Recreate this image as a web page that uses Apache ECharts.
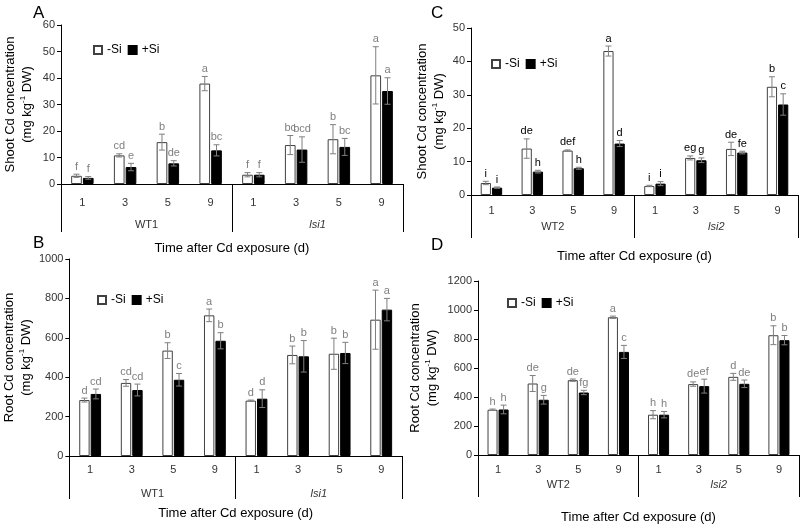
<!DOCTYPE html>
<html><head><meta charset="utf-8">
<script src="https://cdn.jsdelivr.net/npm/echarts@6/dist/echarts.min.js"></script>
<style>html,body{margin:0;padding:0;background:#fff}#c{width:800px;height:525px}</style>
</head><body><div id="c"></div>
<script>
// ---- data ----
const days = ['1','3','5','9','1','3','5','9'];
const groups1 = ['WT1','lsi1'];
const groups2 = ['WT2','lsi2'];

// Panel A: shoot, WT1 / lsi1
const aMinus = [3.1, 10.8, 15.8, 37.9, 3.5, 14.7, 16.9, 41.0];
const aMinusErr = [0.6, 0.6, 3.0, 2.7, 0.8, 3.6, 5.5, 10.8];
const aPlus = [2.3, 6.4, 7.8, 12.7, 3.5, 13.0, 14.0, 35.1];
const aPlusErr = [0.5, 1.4, 1.0, 2.1, 0.8, 4.8, 3.2, 5.0];
const aMinusLet = ['f','cd','b','a','f','bc','b','a'];
const aPlusLet = ['f','e','de','bc','f','bcd','bc','a'];

// Panel B: root, WT1 / lsi1
const bMinus = [284, 371, 535, 714, 281, 513, 519, 692];
const bMinusErr = [10, 17, 40, 32, 3, 45, 79, 150];
const bPlus = [315, 335, 387, 585, 291, 506, 523, 743];
const bPlusErr = [25, 30, 32, 41, 45, 80, 54, 57];
const bMinusLet = ['d','cd','b','a','d','b','b','a'];
const bPlusLet = ['cd','cd','c','b','d','b','b','a'];

// Panel C: shoot, WT2 / lsi2
const cMinus = [3.6, 13.9, 13.3, 43.1, 2.7, 11.1, 13.8, 32.4];
const cMinusErr = [0.5, 2.9, 0.2, 1.5, 0.2, 0.6, 2.0, 3.0];
const cPlus = [2.2, 7.0, 8.0, 15.4, 3.4, 10.4, 12.7, 27.1];
const cPlusErr = [0.2, 0.4, 0.3, 0.9, 0.6, 0.7, 0.4, 3.2];
const cMinusLet = ['i','de','def','a','i','eg','de','b'];
const cPlusLet = ['i','h','h','d','i','g','fe','c'];

// Panel D: root, WT2 / lsi2
const dMinus = [312, 493, 516, 950, 278, 489, 539, 826];
const dMinusErr = [5, 55, 8, 8, 28, 15, 24, 65];
const dPlus = [314, 381, 431, 711, 278, 475, 491, 792];
const dPlusErr = [30, 30, 15, 45, 22, 48, 26, 32];
const dMinusLet = ['h','de','de','a','h','de','d','b'];
const dPlusLet = ['h','g','fg','c','h','ef','de','b'];

// ---- chart ----
const FONT = 'Liberation Sans, Arial, sans-serif';
const BAR_W = 0.25, BAR_GAP = 0.1;
const panels = [
  {letter:'A', grid:{left:61, top:25, width:342, height:159}, max:60, interval:10, groups:groups1,
   yName:'Shoot Cd concentration\n(mg kg{sup|-1} DW)', yGap:25, catMargin:13, grpMargin:35, tick:48, xGap:58,
   legend:{left:93, top:44}, title:{left:28, top:0}, letColor:'#808080',
   minus:aMinus, minusErr:aMinusErr, plus:aPlus, plusErr:aPlusErr, mLet:aMinusLet, pLet:aPlusLet},
  {letter:'B', grid:{left:65, top:259, width:337, height:197}, max:1000, interval:200, groups:groups1,
   yName:'Root Cd concentration\n(mg kg{sup|-1} DW)', yGap:30, catMargin:8, grpMargin:32, tick:43, xGap:51,
   legend:{left:97, top:294}, title:{left:28, top:230}, letColor:'#808080',
   minus:bMinus, minusErr:bMinusErr, plus:bPlus, plusErr:bPlusErr, mLet:bMinusLet, pLet:bPlusLet},
  {letter:'C', grid:{left:471, top:28, width:327, height:167}, max:50, interval:10, groups:groups2,
   yName:'Shoot Cd concentration\n(mg kg{sup|-1} DW)', yGap:23, catMargin:10, grpMargin:26, tick:43, xGap:55,
   legend:{left:491, top:58}, title:{left:426, top:0}, letColor:'#000',
   minus:cMinus, minusErr:cMinusErr, plus:cPlus, plusErr:cPlusErr, mLet:cMinusLet, pLet:cPlusLet},
  {letter:'D', grid:{left:478, top:281, width:321, height:174}, max:1200, interval:200, groups:groups2,
   yName:'Root Cd concentration\n(mg kg{sup|-1} DW)', yGap:37, catMargin:9, grpMargin:24, tick:42, xGap:56,
   legend:{left:507, top:297}, title:{left:426, top:232}, letColor:'#808080',
   minus:dMinus, minusErr:dMinusErr, plus:dPlus, plusErr:dPlusErr, mLet:dMinusLet, pLet:dPlusLet}
];

const option = {animation:false, backgroundColor:'#fff', textStyle:{fontFamily:FONT},
  title:[], legend:[], grid:[], xAxis:[], yAxis:[], series:[]};

function errSeries(p, gi, vals, errs, lets, side) {
  return {
    type:'custom', xAxisIndex:gi*2, yAxisIndex:gi, z:5, silent:true,
    data: vals.map((v,i)=>[i, v, errs[i]]),
    renderItem: function(params, api) {
      const ci = api.value(0), v = api.value(1), e = api.value(2);
      const band = api.size([1,0])[0];
      const bw = band*BAR_W, gap = bw*BAR_GAP;
      const off = side*(gap/2 + bw/2);
      const t = api.coord([ci, v+e]), b = api.coord([ci, v-e]);
      const x = t[0] + off, cap = 3;
      const st = {stroke:'#7f7f7f', lineWidth:1};
      return {type:'group', children:[
        {type:'line', shape:{x1:x, y1:t[1], x2:x, y2:b[1]}, style:st},
        {type:'line', shape:{x1:x-cap, y1:t[1], x2:x+cap, y2:t[1]}, style:st},
        {type:'line', shape:{x1:x-cap, y1:b[1], x2:x+cap, y2:b[1]}, style:st},
        {type:'text', style:{text:lets[params.dataIndex], x:x, y:t[1]-2, textAlign:'center',
          textVerticalAlign:'bottom', fontSize:11, fontFamily:FONT, fill:p.letColor}}
      ]};
    }
  };
}

panels.forEach((p, gi) => {
  option.title.push({text:p.letter, left:p.title.left, top:p.title.top,
    textStyle:{fontSize:17, fontWeight:'normal', color:'#000', fontFamily:FONT}});
  option.legend.push({data:['-Si','+Si'], left:p.legend.left, top:p.legend.top, icon:'rect',
    itemWidth:8, itemHeight:8, itemGap:6, padding:0,
    textStyle:{fontSize:12, color:'#000', fontFamily:FONT}});
  option.grid.push(Object.assign({containLabel:false}, p.grid));
  option.xAxis.push({type:'category', gridIndex:gi, data:days, position:'bottom',
    axisLine:{lineStyle:{color:'#000', width:1}}, axisTick:{show:false},
    axisLabel:{color:'#333', fontSize:11, margin:p.catMargin, fontFamily:FONT}});
  option.xAxis.push({type:'category', gridIndex:gi, data:p.groups, position:'bottom', offset:0,
    axisLine:{show:false},
    axisTick:{show:true, length:p.tick, interval:0, lineStyle:{color:'#000', width:1}},
    axisLabel:{color:'#333', fontSize:11, margin:p.grpMargin, fontFamily:FONT,
      formatter: v => v.startsWith('lsi') ? '{i|' + v + '}' : v,
      rich:{i:{fontStyle:'italic', fontSize:11, color:'#333', fontFamily:FONT}}},
    name:'Time after Cd exposure (d)', nameLocation:'middle', nameGap:p.xGap,
    nameTextStyle:{fontSize:13, color:'#000', fontFamily:FONT}});
  option.yAxis.push({type:'value', gridIndex:gi, min:0, max:p.max, interval:p.interval,
    axisLine:{show:true, lineStyle:{color:'#000', width:1}},
    axisTick:{show:true, length:4, lineStyle:{color:'#000'}},
    splitLine:{show:false},
    axisLabel:{color:'#333', fontSize:11, margin:6, fontFamily:FONT, formatter: v => String(v)},
    name:p.yName, nameLocation:'middle', nameRotate:90, nameGap:p.yGap,
    nameTextStyle:{fontSize:13, color:'#000', lineHeight:17, fontFamily:FONT,
      rich:{sup:{fontSize:8, verticalAlign:'top', lineHeight:17, color:'#000', fontFamily:FONT}}}});
  option.series.push({name:'-Si', type:'bar', xAxisIndex:gi*2, yAxisIndex:gi, data:p.minus,
    barWidth:(BAR_W*100)+'%', barGap:(BAR_GAP*100)+'%',
    itemStyle:{color:'#fff', borderColor:'#404040', borderWidth:1}});
  option.series.push({name:'+Si', type:'bar', xAxisIndex:gi*2, yAxisIndex:gi, data:p.plus,
    barWidth:(BAR_W*100)+'%', barGap:(BAR_GAP*100)+'%',
    itemStyle:{color:'#000', borderColor:'#000', borderWidth:1}});
  option.series.push(errSeries(p, gi, p.minus, p.minusErr, p.mLet, -1));
  option.series.push(errSeries(p, gi, p.plus, p.plusErr, p.pLet, 1));
});

const chart = echarts.init(document.getElementById('c'), null, {renderer:'canvas'});
chart.setOption(option);
</script></body></html>
